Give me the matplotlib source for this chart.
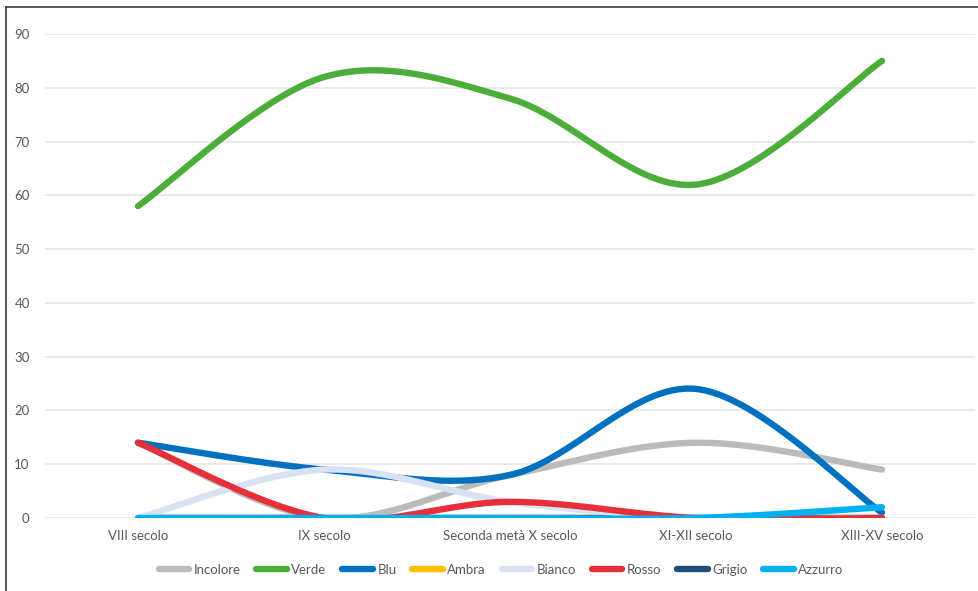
import numpy as np
import matplotlib
matplotlib.use("Agg")
import matplotlib.pyplot as plt
from matplotlib.lines import Line2D

# categories and series
periodi = ["VIII secolo", "IX secolo", "Seconda metà X secolo", "XI-XII secolo", "XIII-XV secolo"]
incolore = [14, 0, 8, 14, 9]
verde = [58, 82, 78, 62, 85]
blu = [14, 9, 8, 24, 1]
ambra = [0, 0, 0, 0, 0]
bianco = [0, 9, 3, 0, 0]
rosso = [14, 0, 3, 0, 0]
grigio = [0, 0, 0, 0, 0]
azzurro = [0, 0, 0, 0, 2]

serie = [
    ("Incolore", incolore, "#BBBBBB"),
    ("Verde", verde, "#4BAE3A"),
    ("Blu", blu, "#0070C0"),
    ("Ambra", ambra, "#FFC000"),
    ("Bianco", bianco, "#D9E2F3"),
    ("Rosso", rosso, "#E5303A"),
    ("Grigio", grigio, "#1F4E79"),
    ("Azzurro", azzurro, "#00B0F0"),
]


def smooth(xs, ys, n=40):
    # excel-like smoothing: bezier segments with catmull-rom control points
    p = np.column_stack([xs, ys]).astype(float)
    ext = np.vstack([p[0], p, p[-1]])
    out = []
    t = np.linspace(0, 1, n)[:, None]
    for i in range(len(p) - 1):
        p0, p1, p2, p3 = ext[i], ext[i + 1], ext[i + 2], ext[i + 3]
        c1 = p1 + (p2 - p0) / 6.0
        c2 = p2 - (p3 - p1) / 6.0
        seg = ((1 - t) ** 3) * p1 + 3 * ((1 - t) ** 2) * t * c1 + 3 * (1 - t) * t ** 2 * c2 + t ** 3 * p2
        out.append(seg if i == 0 else seg[1:])
    pts = np.vstack(out)
    return pts[:, 0], pts[:, 1]


plt.rcParams['font.family'] = ['Lato', 'DejaVu Sans']

fig = plt.figure(figsize=(9.79, 5.91), dpi=100)
ax = fig.add_axes([45 / 979, 1 - 518 / 591, 930 / 979, 484 / 591])

x = np.arange(len(periodi))
handles = []
for nome, vals, col in serie:
    sx, sy = smooth(x, vals)
    # all-zero series sit underneath the others
    z = 2 if max(vals) == 0 else 3
    ax.plot(sx, sy, color=col, lw=4.6, solid_capstyle='round', solid_joinstyle='round', zorder=z)
    handles.append(Line2D([0], [0], color=col, lw=4.6, solid_capstyle='round', label=nome))

ax.set_xlim(-0.5, len(periodi) - 0.5)
ax.set_ylim(0, 90)
ax.set_yticks(range(0, 91, 10))
ax.set_xticks(x)
ax.set_xticklabels(periodi)
ax.grid(axis='y', color='#E3E3E3', lw=1.1, zorder=0)
ax.set_axisbelow(True)
for s in ax.spines.values():
    s.set_visible(False)
ax.tick_params(axis='both', length=0, colors='#595959', labelsize=9.5)
ax.tick_params(axis='y', pad=11)
ax.tick_params(axis='x', pad=9)

fig.legend(handles=handles, loc='center', bbox_to_anchor=(501 / 979, 1 - 570 / 591),
           ncol=8, frameon=False, fontsize=9.5, labelcolor='#595959',
           handlelength=2.3, handletextpad=0.35, columnspacing=1.2)

# chart border (only top and left edges visible)
fig.add_artist(Line2D([6 / 979, 6 / 979], [0, 1 - 7 / 591], color='#3A3A3A', lw=1.2))
fig.add_artist(Line2D([6 / 979, 1], [1 - 7 / 591, 1 - 7 / 591], color='#3A3A3A', lw=1.2))

fig.savefig("out.png", dpi=100)
